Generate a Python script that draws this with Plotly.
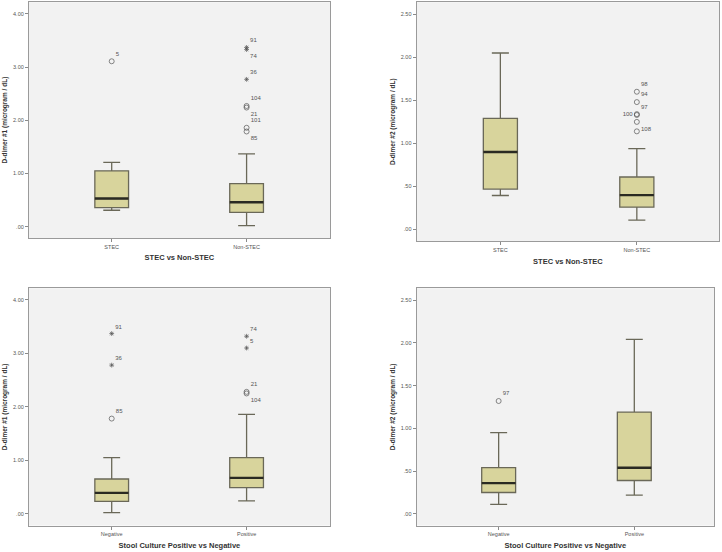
import plotly.graph_objects as go

# ---- data ----
panel_cats = [["STEC", "Non-STEC"], ["STEC", "Non-STEC"],
              ["Negative", "Positive"], ["Negative", "Positive"]]

# q1, median, q3, lower whisker, upper whisker per group
p1_q1 = [0.36, 0.27]
p1_med = [0.53, 0.46]
p1_q3 = [1.05, 0.81]
p1_lo = [0.31, 0.02]
p1_hi = [1.21, 1.37]

p2_q1 = [0.47, 0.26]
p2_med = [0.90, 0.40]
p2_q3 = [1.29, 0.61]
p2_lo = [0.395, 0.11]
p2_hi = [2.05, 0.94]

p3_q1 = [0.23, 0.49]
p3_med = [0.39, 0.67]
p3_q3 = [0.65, 1.05]
p3_lo = [0.02, 0.24]
p3_hi = [1.05, 1.86]

p4_q1 = [0.25, 0.39]
p4_med = [0.36, 0.54]
p4_q3 = [0.54, 1.19]
p4_lo = [0.11, 0.22]
p4_hi = [0.95, 2.04]

# outliers: group index, value, case label, kind ("o" mild, "*" extreme)
p1_out_grp = [0, 1, 1, 1, 1, 1, 1, 1]
p1_out_val = [3.11, 3.37, 3.33, 2.77, 2.27, 2.24, 1.86, 1.79]
p1_out_lab = ["5", "91", "74", "36", "104", "21", "101", "85"]
p1_out_kind = ["o", "*", "*", "*", "o", "o", "o", "o"]

p2_out_grp = [1, 1, 1, 1, 1, 1]
p2_out_val = [1.60, 1.48, 1.34, 1.33, 1.25, 1.14]
p2_out_lab = ["98", "94", "97", "100", "108", ""]
p2_out_kind = ["o", "o", "o", "o", "o", "o"]

p3_out_grp = [0, 0, 0, 1, 1, 1, 1]
p3_out_val = [3.37, 2.78, 1.78, 3.32, 3.10, 2.28, 2.25]
p3_out_lab = ["91", "36", "85", "74", "5", "21", "104"]
p3_out_kind = ["*", "*", "o", "*", "*", "o", "o"]

p4_out_grp = [0]
p4_out_val = [1.32]
p4_out_lab = ["97"]
p4_out_kind = ["o"]

y_titles = ["D-dimer #1 (microgram / dL)", "D-dimer #2 (microgram / dL)",
            "D-dimer #1 (microgram / dL)", "D-dimer #2 (microgram / dL)"]
x_titles = ["STEC vs Non-STEC", "STEC vs Non-STEC",
            "Stool Culture Positive vs Negative", "Stool Culture Positive vs Negative"]
y_ticks = [[0, 1, 2, 3, 4], [0, 0.5, 1, 1.5, 2, 2.5],
           [0, 1, 2, 3, 4], [0, 0.5, 1, 1.5, 2, 2.5]]

# label placement next to outliers (SPSS style)
p1_pos = ["top right", "top right", "bottom right", "top right", "top right",
          "bottom right", "top right", "bottom right"]
p2_pos = ["top right", "top right", "top right", "middle left", "bottom right", "top right"]
p3_pos = ["top right", "top right", "top right", "top right", "top right",
          "top right", "bottom right"]
p4_pos = ["top right"]

boxes = [(p1_q1, p1_med, p1_q3, p1_lo, p1_hi),
         (p2_q1, p2_med, p2_q3, p2_lo, p2_hi),
         (p3_q1, p3_med, p3_q3, p3_lo, p3_hi),
         (p4_q1, p4_med, p4_q3, p4_lo, p4_hi)]
outliers = [(p1_out_grp, p1_out_val, p1_out_lab, p1_out_kind, p1_pos),
            (p2_out_grp, p2_out_val, p2_out_lab, p2_out_kind, p2_pos),
            (p3_out_grp, p3_out_val, p3_out_lab, p3_out_kind, p3_pos),
            (p4_out_grp, p4_out_val, p4_out_lab, p4_out_kind, p4_pos)]

# ---- layout geometry ----
x_domains = [[0.040, 0.457], [0.577, 0.996], [0.040, 0.457], [0.577, 0.989]]
y_domains = [[0.569, 0.996], [0.563, 0.996], [0.048, 0.478], [0.048, 0.478]]
x_ranges = [[-0.614, 1.618], [-0.614, 1.603], [-0.614, 1.618], [-0.605, 1.588]]
y_ranges = [[-0.21, 4.22], [-0.136, 2.64], [-0.22, 4.22], [-0.136, 2.64]]

BOX_W = 0.25
FILL = "#d8d49c"
EDGE = "#6a6858"
FONT = "Liberation Sans, Arial, sans-serif"


def spss_fmt(v):
    return f"{v:.2f}".lstrip("0") if v < 1 else f"{v:.2f}"


fig = go.Figure()

for i in range(4):
    xa = "x" if i == 0 else f"x{i + 1}"
    ya = "y" if i == 0 else f"y{i + 1}"
    q1, med, q3, lo, hi = boxes[i]
    pos = [0, 1]

    fig.add_trace(go.Box(
        x=pos, q1=q1, median=med, q3=q3, lowerfence=lo, upperfence=hi,
        width=BOX_W, whiskerwidth=0.5, boxpoints=False,
        fillcolor=FILL, line=dict(color=EDGE, width=1.3),
        xaxis=xa, yaxis=ya, showlegend=False, hoverinfo="skip",
    ))

    # thick SPSS median bars
    for p, m in zip(pos, med):
        fig.add_trace(go.Scatter(
            x=[p - BOX_W / 2, p + BOX_W / 2], y=[m, m], mode="lines",
            line=dict(color="#2a2a22", width=2.4),
            xaxis=xa, yaxis=ya, showlegend=False, hoverinfo="skip",
        ))

    grp, val, lab, kind, tpos = outliers[i]
    fig.add_trace(go.Scatter(
        x=grp, y=val, mode="markers+text", text=lab, textposition=tpos,
        textfont=dict(size=6, color="#555", family=FONT),
        marker=dict(
            symbol=["circle-open" if k == "o" else "asterisk-open" for k in kind],
            size=[5 if k == "o" else 4 for k in kind],
            color="#555", line=dict(width=1, color="#555"),
        ),
        xaxis=xa, yaxis=ya, showlegend=False, cliponaxis=False,
    ))

    axis_common = dict(showline=True, mirror=True, linecolor="#9a9a9a", linewidth=1,
                       ticks="outside", ticklen=3, tickcolor="#8a8a8a",
                       showgrid=False, zeroline=False,
                       tickfont=dict(size=5.5, color="#555", family=FONT))
    fig.layout[f"xaxis{i + 1 if i else ''}"] = dict(
        domain=x_domains[i], range=x_ranges[i], anchor=ya,
        tickvals=pos, ticktext=panel_cats[i],
        title=dict(text=f"<b>{x_titles[i]}</b>", standoff=6,
                   font=dict(size=7.5, color="#333", family=FONT)),
        **axis_common)
    fig.layout[f"yaxis{i + 1 if i else ''}"] = dict(
        domain=y_domains[i], range=y_ranges[i], anchor=xa,
        tickvals=y_ticks[i], ticktext=[spss_fmt(v) for v in y_ticks[i]],
        title=dict(text=f"<b>{y_titles[i]}</b>", standoff=4,
                   font=dict(size=6.5, color="#333", family=FONT)),
        **axis_common)

# plot-area shading (light grey SPSS background)
for i in range(4):
    fig.add_shape(type="rect", xref="paper", yref="paper", layer="below",
                  x0=x_domains[i][0], x1=x_domains[i][1],
                  y0=y_domains[i][0], y1=y_domains[i][1],
                  fillcolor="#f2f2f2", line=dict(width=0))

fig.update_layout(
    width=722, height=552,
    margin=dict(l=0, r=0, t=0, b=0),
    paper_bgcolor="white", plot_bgcolor="rgba(0,0,0,0)",
    font=dict(family=FONT),
)

# drop the browser's default 8px body margin so the figure fills the window
fig.write_html("out.html", config={"displayModeBar": False},
               post_script="document.body.style.margin='0px';")
